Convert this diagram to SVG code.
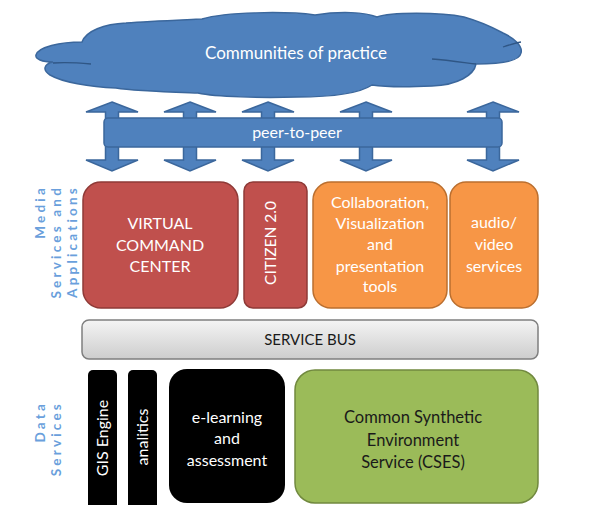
<svg xmlns="http://www.w3.org/2000/svg" width="594" height="505" viewBox="0 0 594 505">
<defs>
<linearGradient id="busGrad" x1="0" y1="0" x2="0" y2="1">
<stop offset="0" stop-color="#f4f4f4"/>
<stop offset="1" stop-color="#cdcdcd"/>
</linearGradient>
<style>
.t{font-family:Lato,"Open Sans","Liberation Sans",sans-serif;text-anchor:middle}
.w{fill:#ffffff}
.k{fill:#1a1a1a}
.lbl{font-family:Lato,"Open Sans","Liberation Sans",sans-serif;font-weight:bold;font-size:13.5px;letter-spacing:3.2px;fill:#6a9fdc;text-anchor:end}
.blue{fill:#4f81bd;stroke:#3b679c;stroke-width:1.5}
.red{fill:#c0504d;stroke:#8f3a37;stroke-width:1.5}
.org{fill:#f79646;stroke:#bb6f2f;stroke-width:1.5}
.grn{fill:#9bbb59;stroke:#71893f;stroke-width:1.5}
.blk{fill:#000000}
.crease{fill:none;stroke:#2f5685;stroke-width:1.3}
</style>
</defs>
<rect width="594" height="505" fill="#ffffff"/>

<g id="cloud">
<path class="blue" d="M36,55 C38,47 60,42 82,42 C86,31 104,24 126,23 C150,21 180,20 202,19 C225,12 285,11 315,15 C340,11 365,12 377,17 C390,12 440,12 464,17 C478,21 492,27 503,33 C514,38 523,46 521,53 C520,60 505,64 476,64 C474,75 458,85 432,86 C410,87 385,87 372,85 C360,93 333,97 297,97 C261,98 216,97 198,93 C170,92 134,91 116,88 C89,87 62,82 50,75 C42,70 44,64 53,62 C42,62 35,59 36,55 Z"/>
<path class="crease" d="M53,63 C67,62 80,63 91,64"/>
<path class="crease" d="M432,59 C446,60 460,62 476,64"/>
<path class="crease" d="M503,47 C509,45 515,43 521,42"/>
<text class="t w" x="296" y="59" font-size="17">Communities of practice</text>
</g>

<g id="connectors">
<path class="blue" d="M112,102 L138,112 L118.5,112 L118.5,160 L138,160 L112,171 L86,160 L105.5,160 L105.5,112 L86,112 Z"/>
<path class="blue" d="M190,102 L216,112 L196.5,112 L196.5,160 L216,160 L190,171 L164,160 L183.5,160 L183.5,112 L164,112 Z"/>
<path class="blue" d="M268,102 L294,112 L274.5,112 L274.5,160 L294,160 L268,171 L242,160 L261.5,160 L261.5,112 L242,112 Z"/>
<path class="blue" d="M366,102 L392,112 L372.5,112 L372.5,160 L392,160 L366,171 L340,160 L359.5,160 L359.5,112 L340,112 Z"/>
<path class="blue" d="M493,102 L519,112 L499.5,112 L499.5,160 L519,160 L493,171 L467,160 L486.5,160 L486.5,112 L467,112 Z"/>
</g>

<g id="peer-to-peer">
<rect class="blue" x="104" y="118" width="398" height="29" rx="4"/>
<text class="t w" x="297" y="138" font-size="16">peer-to-peer</text>
</g>

<g id="label-media">
<g transform="translate(0,185) rotate(-90)">
<text class="lbl" x="0" y="45">Media</text>
<text class="lbl" x="0" y="61">Services and</text>
<text class="lbl" x="0" y="77">Applications</text>
</g>
</g>

<g id="virtual-command-center">
<rect class="red" x="83" y="182" width="155" height="126" rx="18"/>
<text class="t w" x="160" y="229" font-size="16">VIRTUAL</text>
<text class="t w" x="160" y="251" font-size="16">COMMAND</text>
<text class="t w" x="160" y="272" font-size="16">CENTER</text>
</g>

<g id="citizen">
<rect class="red" x="244" y="182" width="63" height="126" rx="9"/>
<text class="t w" font-size="15.5" transform="translate(276,243) rotate(-90)">CITIZEN 2.0</text>
</g>

<g id="collaboration">
<rect class="org" x="313" y="182" width="134" height="126" rx="18"/>
<text class="t w" x="380" y="208" font-size="16">Collaboration,</text>
<text class="t w" x="380" y="229" font-size="16">Visualization</text>
<text class="t w" x="380" y="250" font-size="16">and</text>
<text class="t w" x="380" y="272" font-size="16">presentation</text>
<text class="t w" x="380" y="292" font-size="16">tools</text>
</g>

<g id="audio-video">
<rect class="org" x="450" y="182" width="88" height="126" rx="16"/>
<text class="t w" x="494" y="228" font-size="16">audio/</text>
<text class="t w" x="494" y="250" font-size="16">video</text>
<text class="t w" x="494" y="272" font-size="16">services</text>
</g>

<g id="service-bus">
<rect x="82" y="320" width="456" height="39" rx="7" fill="url(#busGrad)" stroke="#7f7f7f" stroke-width="1.5"/>
<text class="t k" x="310" y="345" font-size="15">SERVICE BUS</text>
</g>

<g id="label-data">
<g transform="translate(0,401) rotate(-90)">
<text class="lbl" x="0" y="45">Data</text>
<text class="lbl" x="0" y="61">Services</text>
</g>
</g>

<g id="gis-engine">
<rect class="blk" x="88" y="370" width="29" height="145" rx="5"/>
<text class="t w" font-size="16" transform="translate(108,438) rotate(-90)">GIS Engine</text>
</g>

<g id="analitics">
<rect class="blk" x="128" y="370" width="29" height="145" rx="5"/>
<text class="t w" font-size="16" transform="translate(148,437) rotate(-90)">analitics</text>
</g>

<g id="e-learning">
<rect class="blk" x="169" y="369" width="116" height="134" rx="18"/>
<text class="t w" x="227" y="423" font-size="16">e-learning</text>
<text class="t w" x="227" y="444" font-size="16">and</text>
<text class="t w" x="227" y="466" font-size="16">assessment</text>
</g>

<g id="cses">
<rect class="grn" x="295" y="370" width="243" height="133" rx="20"/>
<text class="t k" x="413" y="423" font-size="16.5">Common Synthetic</text>
<text class="t k" x="413" y="446" font-size="16.5">Environment</text>
<text class="t k" x="413" y="468" font-size="16.5">Service (CSES)</text>
</g>
</svg>
